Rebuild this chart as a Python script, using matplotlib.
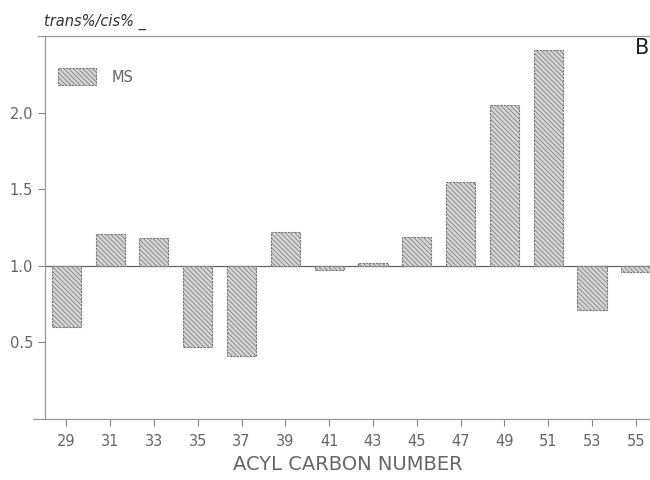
import numpy as np
import matplotlib.pyplot as plt

# acyl carbon numbers and trans/cis ratios (MS)
carbons = [29, 31, 33, 35, 37, 39, 41, 43, 45, 47, 49, 51, 53, 55]
ratio = [0.60, 1.21, 1.18, 0.47, 0.41, 1.22, 0.97, 1.02, 1.19, 1.55, 2.05, 2.41, 0.71, 0.96]
yticks = [0.5, 1.0, 1.5, 2.0]

base = 1.0
txt = '#666666'
plt.rcParams['hatch.color'] = '#808080'
plt.rcParams['hatch.linewidth'] = 0.5

fig = plt.figure(figsize=(6.5, 4.8), dpi=100)
ax = fig.add_axes([0.069, 0.127, 0.931, 0.798])

heights = np.array(ratio) - base
ax.bar(carbons, heights, bottom=base, width=1.33, color='#d4d4d4',
       edgecolor='#777777', linewidth=0.8, linestyle=(0, (2, 1)),
       hatch='\\\\\\\\\\\\\\', label='MS')

# reference line at ratio = 1
ax.axhline(base, color='#666666', lw=0.9, zorder=0)

ax.set_xlim(28.02, 55.65)
ax.set_ylim(0, 2.5)
ax.set_xticks(carbons)
ax.set_yticks(yticks)
ax.set_yticklabels(['%.1f' % v for v in yticks])
ax.tick_params(colors='#888888', labelcolor=txt, labelsize=10.5, length=5, width=0.8)
ax.tick_params(axis='x', pad=6)

ax.spines['right'].set_visible(False)
for s in ['left', 'bottom', 'top']:
    ax.spines[s].set_color('#999999')
    ax.spines[s].set_linewidth(0.9)
# bottom and top rules run a little past the y-axis
ax.plot([-0.02, 0], [0, 0], transform=ax.transAxes, color='#999999', lw=0.9, clip_on=False)
ax.plot([-0.012, 0], [1, 1], transform=ax.transAxes, color='#999999', lw=0.9, clip_on=False)

ax.set_xlabel('ACYL CARBON NUMBER', fontsize=14, color=txt, labelpad=4)
fig.text(0.068, 0.955, 'trans%/cis% _', fontsize=10.5, style='italic', color='#333333',
         va='center', ha='left')
fig.text(0.999, 0.9, 'B', fontsize=15, color='#222222', va='center', ha='right')

leg = ax.legend(loc='upper left', bbox_to_anchor=(0.0, 0.95), frameon=False,
                handlelength=2.6, handleheight=1.4, fontsize=10.5, labelcolor=txt,
                handletextpad=1.1)

fig.savefig('out.png', dpi=100)
